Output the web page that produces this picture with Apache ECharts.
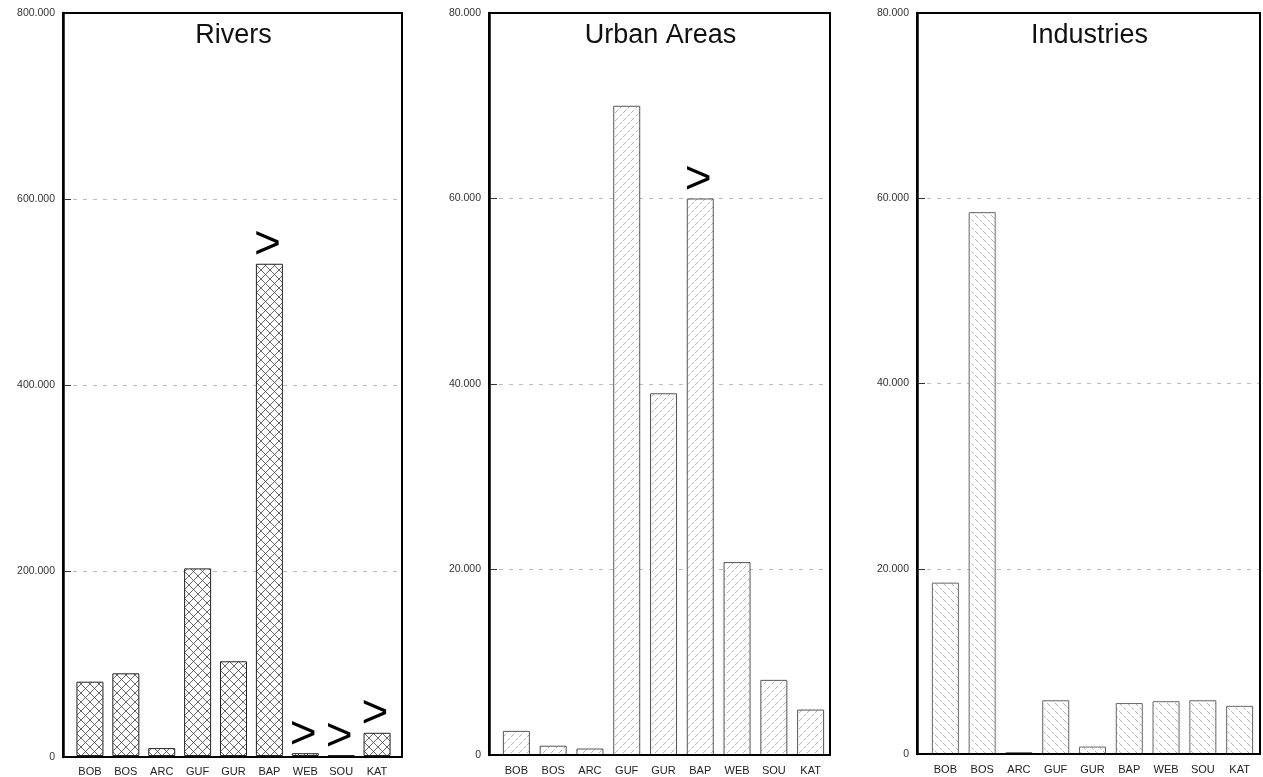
<!DOCTYPE html>
<html>
<head>
<meta charset="utf-8">
<script src="https://cdn.jsdelivr.net/npm/echarts@6/dist/echarts.min.js"></script>
<style>
html,body{margin:0;padding:0;background:#fff;}
#chart{width:1263px;height:777px;}
</style>
</head>
<body>
<div id="chart"></div>
<script>
// ---- data ----
var categories = ['BOB','BOS','ARC','GUF','GUR','BAP','WEB','SOU','KAT'];
var panelTitles = ['Rivers','Urban Areas','Industries'];
var riversValues = [80000, 89000, 8500, 202000, 102000, 530000, 3000, 800, 25000];
var riversGreater = [false,false,false,false,false,true,true,true,true];
var urbanValues = [2600, 1000, 700, 70000, 39000, 60000, 20800, 8100, 4900];
var urbanGreater = [false,false,false,false,false,true,false,false,false];
var industryValues = [18500, 58500, 200, 5800, 800, 5500, 5700, 5800, 5200];
var industryGreater = [false,false,false,false,false,false,false,false,false];
var riversTicks = [0, 200000, 400000, 600000, 800000];
var urbanTicks = [0, 20000, 40000, 60000, 80000];
var industryTicks = [0, 20000, 40000, 60000, 80000];

// ---- styles ----
var FONT = '"Liberation Sans", Arial, Helvetica, sans-serif';
function hatch(size, dirs, color, lw, dash) {
  var c = document.createElement('canvas');
  c.width = size; c.height = size;
  var ctx = c.getContext('2d');
  ctx.fillStyle = '#fff'; ctx.fillRect(0,0,size,size);
  ctx.strokeStyle = color; ctx.lineWidth = lw;
  if (dash) ctx.setLineDash(dash);
  dirs.forEach(function(d){
    ctx.beginPath();
    if (d === '/') {
      ctx.moveTo(0,size); ctx.lineTo(size,0);
      ctx.moveTo(-1,1); ctx.lineTo(1,-1);
      ctx.moveTo(size-1,size+1); ctx.lineTo(size+1,size-1);
    } else {
      ctx.moveTo(0,0); ctx.lineTo(size,size);
      ctx.moveTo(-1,size-1); ctx.lineTo(1,size+1);
      ctx.moveTo(size-1,-1); ctx.lineTo(size+1,1);
    }
    ctx.stroke();
  });
  return {image: c, repeat: 'repeat'};
}
var patterns = [
  hatch(9, ['/','\\'], '#444', 0.8),
  hatch(8, ['/'], '#9a9a9a', 0.8, [3,2]),
  hatch(8, ['\\'], '#9a9a9a', 0.8, [3,2])
];
var borders = ['#222', '#555', '#666'];

function fmt(v){
  if (v === 0) return '0';
  var s = String(v);
  return s.slice(0, s.length-3) + '.' + s.slice(s.length-3);
}

// frame boxes (px) and data bands
var frames = [
  {left:63,  right:1263-402, top:13, bottom:777-757},
  {left:489, right:1263-830, top:13, bottom:777-755},
  {left:917, right:1263-1260, top:13, bottom:777-754}
];
var bands = [
  {left:72,  right:1263-395},
  {left:498, right:1263-829},
  {left:927, right:1263-1258}
];
var valueSets = [riversValues, urbanValues, industryValues];
var greaterSets = [riversGreater, urbanGreater, industryGreater];
var tickSets = [riversTicks, urbanTicks, industryTicks];

var grid = [], xAxis = [], yAxis = [], series = [], title = [];
for (var p = 0; p < 3; p++) {
  var f = frames[p], b = bands[p], ticks = tickSets[p];
  var maxV = ticks[ticks.length-1], step = ticks[1]-ticks[0];
  // frame grid
  grid.push({left:f.left, right:f.right, top:f.top, bottom:f.bottom, show:true, z:10,
             borderColor:'#000', borderWidth:2, backgroundColor:'transparent'});
  // data grid
  grid.push({left:b.left, right:b.right, top:f.top, bottom:f.bottom});
  var gF = 2*p, gD = 2*p+1;
  xAxis.push({gridIndex:gF, type:'value', min:0, max:1, show:false});
  xAxis.push({gridIndex:gD, type:'category', data:categories,
    axisLine:{show:false}, axisTick:{show:false},
    axisLabel:{color:'#222', fontSize:11, fontFamily:FONT, margin:10, interval:0}});
  yAxis.push({gridIndex:gF, type:'value', min:0, max:maxV, interval:step,
    axisLine:{show:true, lineStyle:{color:'#000', width:2.5}},
    axisTick:{show:true, inside:true, length:8, lineStyle:{color:'#333'}},
    axisLabel:{color:'#333', fontSize:10.5, fontFamily:FONT, margin:8, formatter:fmt},
    splitLine:{show:true, lineStyle:{color:'#bdbdbd', type:[4,6], width:1}}});
  yAxis.push({gridIndex:gD, type:'value', min:0, max:maxV, show:false, splitLine:{show:false}});
  var vals = valueSets[p], gr = greaterSets[p];
  series.push({
    type:'bar', xAxisIndex:2*p+1, yAxisIndex:2*p+1, barWidth:27,
    itemStyle:{color:patterns[p], borderColor:borders[p], borderWidth:1},
    label:{show:false},
    data: vals.map(function(v,i){
      return {value:v, label:{show:gr[i], position:'top', distance:0, offset:[-2,5], formatter:'>',
        fontSize:46, color:'#000', fontFamily:FONT}};
    }),
    z:3
  });
  title.push({text:panelTitles[p], left:(f.left + (1263-f.right))/2 - 4, top:17,
    textAlign:'center',
    textStyle:{fontSize:27, fontWeight:'normal', color:'#111', fontFamily:FONT}});
}

var chart = echarts.init(document.getElementById('chart'), null, {renderer:'canvas'});
chart.setOption({
  animation:false,
  backgroundColor:'#fff',
  title:title, grid:grid, xAxis:xAxis, yAxis:yAxis, series:series
});
</script>
</body>
</html>
